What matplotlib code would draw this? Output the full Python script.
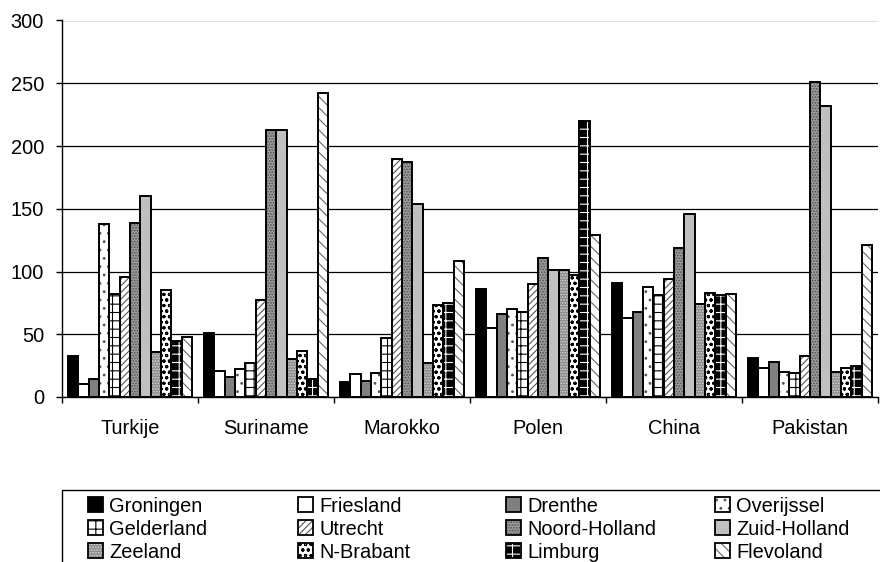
import matplotlib
matplotlib.use("Agg")
import matplotlib.pyplot as plt
from matplotlib.patches import Rectangle
import numpy as np

plt.rcParams['font.family'] = ['Liberation Sans', 'DejaVu Sans']
plt.rcParams['hatch.linewidth'] = 0.8

categories = ["Turkije", "Suriname", "Marokko", "Polen", "China", "Pakistan"]
provinces = ["Groningen", "Friesland", "Drenthe", "Overijssel", "Gelderland", "Utrecht",
             "Noord-Holland", "Zuid-Holland", "Zeeland", "N-Brabant", "Limburg", "Flevoland"]

groningen     = [33, 51, 12, 86, 91, 31]
friesland     = [10, 21, 18, 55, 63, 23]
drenthe       = [14, 16, 13, 66, 68, 28]
overijssel    = [138, 22, 19, 70, 88, 20]
gelderland    = [82, 27, 47, 68, 81, 19]
utrecht       = [96, 77, 190, 90, 94, 33]
noord_holland = [139, 213, 187, 111, 119, 251]
zuid_holland  = [160, 213, 154, 101, 146, 232]
zeeland       = [36, 30, 27, 101, 74, 20]
n_brabant     = [85, 37, 73, 97, 83, 23]
limburg       = [45, 14, 75, 220, 81, 25]
flevoland     = [48, 242, 108, 129, 82, 121]

series = [groningen, friesland, drenthe, overijssel, gelderland, utrecht,
          noord_holland, zuid_holland, zeeland, n_brabant, limburg, flevoland]

# (facecolor, hatch, hatchcolor)
styles = [
    ("black", None, None),
    ("white", None, None),
    ("#808080", None, None),
    ("white", "..", "#555555"),
    ("white", "++", "black"),
    ("white", "/////", "#555555"),
    ("#9a9a9a", "......", "#505050"),
    ("#c0c0c0", None, None),
    ("#8c8c8c", "......", "#d8d8d8"),
    ("white", "ooo", "black"),
    ("black", "++", "white"),
    ("white", "\\\\\\", "#666666"),
]

W, H = 880, 562
fig = plt.figure(figsize=(W / 100, H / 100), dpi=100)
ax = fig.add_axes([62 / W, 1 - 397 / H, (878 - 62) / W, (397 - 20.5) / H])

n = len(series)
group_w = 0.912
bw = group_w / n
x = np.arange(len(categories))
edge_lw = 1.4

for i, (vals, (fc, hatch, hc)) in enumerate(zip(series, styles)):
    pos = x - group_w / 2 + bw * (i + 0.5)
    ax.bar(pos, vals, width=bw, color=fc, linewidth=0, zorder=2)
    if hatch:
        ax.bar(pos, vals, width=bw, facecolor="none", edgecolor=hc, hatch=hatch,
               linewidth=0, zorder=3)
    ax.bar(pos, vals, width=bw, facecolor="none", edgecolor="black",
           linewidth=edge_lw, zorder=4)

ax.set_ylim(0, 300)
ax.set_xlim(-0.5, len(categories) - 0.5)
ax.set_yticks(np.arange(0, 301, 50))
ax.yaxis.grid(True, color="black", linewidth=0.9, zorder=0)
ax.set_axisbelow(True)
for s in ["top", "right"]:
    ax.spines[s].set_visible(False)
ax.spines["left"].set_color("black")
ax.spines["bottom"].set_color("black")
ax.spines["left"].set_linewidth(1.0)
ax.spines["bottom"].set_linewidth(1.0)

ax.set_xticks(np.arange(-0.5, len(categories), 1.0))
ax.set_xticklabels([])
ax.set_xticks(x, minor=True)
ax.set_xticklabels(categories, minor=True, fontsize=14.4)
ax.tick_params(axis="x", which="major", length=4.3, width=1, direction="out")
ax.tick_params(axis="x", which="minor", length=0, pad=16)
ax.tick_params(axis="y", length=4.3, width=1, direction="out", pad=8.6, labelsize=14.4)

# Legend (manual, Excel-like fixed columns)
def fx(px):
    return px / W

def fy(py):
    return 1 - py / H

frame = Rectangle((fx(62), fy(580)), fx(890) - fx(62), fy(490) - fy(580),
                  transform=fig.transFigure, facecolor="white", edgecolor="black",
                  linewidth=1.0, clip_on=False)
fig.add_artist(frame)
col_x = [88, 298, 506, 715]
row_base = [512, 535, 558]
ps = 15
for k, (name, (fc, hatch, hc)) in enumerate(zip(provinces, styles)):
    r, c = divmod(k, 4)
    px, py = col_x[c], row_base[r]
    fig.add_artist(Rectangle((fx(px), fy(py)), ps / W, ps / H, transform=fig.transFigure,
                             facecolor=fc, linewidth=0))
    if hatch:
        fig.add_artist(Rectangle((fx(px), fy(py)), ps / W, ps / H, transform=fig.transFigure,
                                 facecolor="none", edgecolor=hc, hatch=hatch, linewidth=0))
    fig.add_artist(Rectangle((fx(px), fy(py)), ps / W, ps / H, transform=fig.transFigure,
                             facecolor="none", edgecolor="black", linewidth=1.3))
    fig.text(fx(px + 21), fy(py), name, fontsize=14.4, va="baseline", ha="left")

fig.savefig("out.png", dpi=100)
